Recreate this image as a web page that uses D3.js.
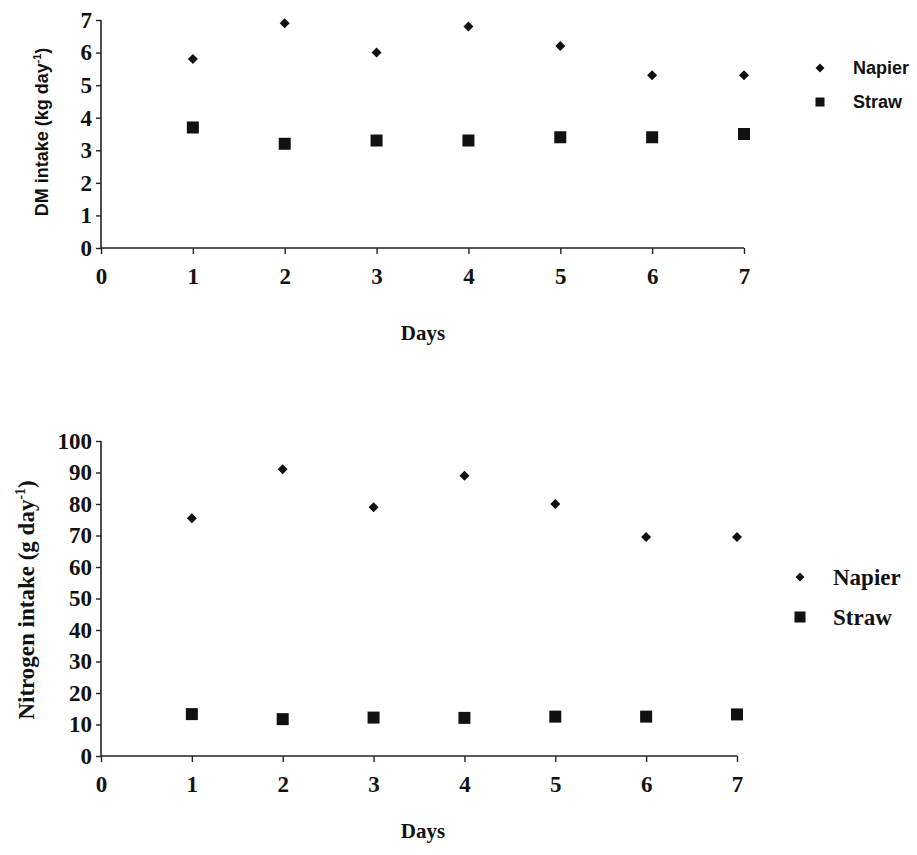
<!DOCTYPE html>
<html>
<head>
<meta charset="utf-8">
<script src="https://cdn.jsdelivr.net/npm/d3@7"></script>
<style>
  body { margin: 0; background: #fff; }
  svg text { fill: #111; }
</style>
</head>
<body>
<svg id="chart" width="917" height="855"></svg>
<script>
// data
const days = [1, 2, 3, 4, 5, 6, 7];
const dmNapier = [5.8, 6.9, 6.0, 6.8, 6.2, 5.3, 5.3];
const dmStraw = [3.7, 3.2, 3.3, 3.3, 3.4, 3.4, 3.5];
const nNapier = [75.5, 91, 79, 89, 80, 69.5, 69.5];
const nStraw = [13.3, 11.7, 12.2, 12.1, 12.5, 12.5, 13.2];
const xTicks = [0, 1, 2, 3, 4, 5, 6, 7];
const dmTicks = [0, 1, 2, 3, 4, 5, 6, 7];
const nTicks = [0, 10, 20, 30, 40, 50, 60, 70, 80, 90, 100];
const seriesNames = ["Napier", "Straw"];

const svg = d3.select("#chart");
const serif = "'Liberation Serif', 'Times New Roman', serif";
const sans = "'Liberation Sans', Arial, sans-serif";

// square rotated 45 degrees, half-diagonal r
const diamondPath = r => `M0,${-r}L${r},0L0,${r}L${-r},0Z`;

function drawPanel(opt) {
    const x = d3.scaleLinear().domain([0, 7]).range([opt.x0, opt.x1]);
    const y = d3.scaleLinear().domain([0, opt.ymax]).range([opt.yBottom, opt.yTop]);

    const g = svg.append("g");

    // y axis
    const ya = g.append("g")
        .attr("transform", `translate(${opt.x0},0)`)
        .call(d3.axisLeft(y).tickValues(opt.yTicks).tickFormat(d3.format("d")).tickSize(5).tickPadding(4));
    // x axis
    const xa = g.append("g")
        .attr("transform", `translate(0,${opt.yBottom})`)
        .call(d3.axisBottom(x).tickValues(xTicks).tickFormat(d3.format("d")).tickSize(6).tickPadding(14));

    [ya, xa].forEach(a => {
        a.select(".domain").attr("stroke", "#222").attr("stroke-width", 1.6);
        a.selectAll(".tick line").attr("stroke", "#222").attr("stroke-width", 1.4);
        a.selectAll(".tick text")
            .attr("font-family", serif)
            .attr("font-weight", "bold")
            .attr("font-size", 23)
            .attr("fill", "#111");
    });
    // drop the outer tick stubs d3 puts on the domain path
    ya.select(".domain").attr("d", `M0,${opt.yTop}V${opt.yBottom}`);
    xa.select(".domain").attr("d", `M${opt.x0},0H${opt.x1}`);

    // axis titles
    g.append("text")
        .attr("x", 423)
        .attr("y", opt.daysY)
        .attr("text-anchor", "middle")
        .attr("font-family", serif)
        .attr("font-weight", "bold")
        .attr("font-size", 21)
        .text("Days");

    const yl = g.append("text")
        .attr("transform", `translate(${opt.ylabX},${opt.ylabY}) rotate(-90)`)
        .attr("text-anchor", "middle")
        .attr("font-family", opt.labFont)
        .attr("font-weight", "bold")
        .attr("font-size", opt.labSize);
    yl.append("tspan").text(opt.ylab);
    yl.append("tspan").attr("dy", -opt.labSize * 0.4).attr("font-size", opt.labSize * 0.6).text("-1");
    yl.append("tspan").attr("dy", opt.labSize * 0.4).text(")");

    // Napier points
    g.selectAll(".nap").data(days).join("path")
        .attr("class", "nap")
        .attr("d", diamondPath(opt.dia))
        .attr("transform", (d, i) => `translate(${x(d)},${y(opt.napier[i])})`)
        .attr("fill", "#111");

    // Straw points
    g.selectAll(".str").data(days).join("rect")
        .attr("class", "str")
        .attr("x", d => x(d) - opt.sq / 2)
        .attr("y", (d, i) => y(opt.straw[i]) - opt.sq / 2)
        .attr("width", opt.sq)
        .attr("height", opt.sq)
        .attr("fill", "#111");

    // legend
    const lg = g.append("g").attr("transform", `translate(${opt.legX},${opt.legY})`);
    seriesNames.forEach((name, i) => {
        const row = lg.append("g").attr("transform", `translate(0,${i * opt.legGap})`);
        if (i === 0) {
            row.append("path").attr("d", diamondPath(opt.dia - 0.5)).attr("fill", "#111");
        } else {
            row.append("rect")
                .attr("x", -opt.legSq / 2).attr("y", -opt.legSq / 2)
                .attr("width", opt.legSq).attr("height", opt.legSq)
                .attr("fill", "#111");
        }
        row.append("text")
            .attr("x", opt.legText)
            .attr("dy", "0.35em")
            .attr("font-family", opt.labFont)
            .attr("font-weight", "bold")
            .attr("font-size", opt.legSize)
            .text(name);
    });
}

drawPanel({
    x0: 101, x1: 744, yTop: 20, yBottom: 248, ymax: 7,
    yTicks: dmTicks, napier: dmNapier, straw: dmStraw,
    daysY: 340, ylab: "DM intake (kg day", ylabX: 48, ylabY: 132,
    labFont: sans, labSize: 18, dia: 5, sq: 12,
    legX: 820, legY: 68, legGap: 34, legText: 33, legSize: 18, legSq: 9
});

drawPanel({
    x0: 101, x1: 737, yTop: 441, yBottom: 756, ymax: 100,
    yTicks: nTicks, napier: nNapier, straw: nStraw,
    daysY: 838, ylab: "Nitrogen intake (g day", ylabX: 34, ylabY: 600,
    labFont: serif, labSize: 23, dia: 5, sq: 12,
    legX: 800, legY: 577, legGap: 40, legText: 33, legSize: 23, legSq: 11
});
</script>
</body>
</html>
